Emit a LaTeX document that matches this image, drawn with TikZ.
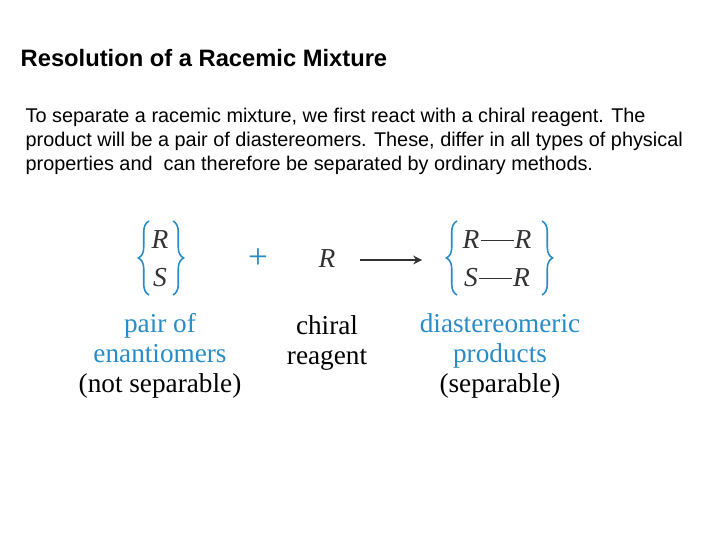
\documentclass[tikz,border=0pt]{standalone}
\usepackage{fontspec}
\setmainfont{Liberation Serif}
\setsansfont{Liberation Sans}
\usetikzlibrary{decorations.pathreplacing,arrows.meta}
\definecolor{chemblue}{RGB}{40,140,200}
\tikzset{
  hd/.style={anchor=base west,font=\sffamily\bfseries\fontsize{6.75pt}{7pt}\selectfont},
  body/.style={anchor=west,align=left,font=\sffamily\fontsize{5.65pt}{6.8pt}\selectfont},
  chem/.style={font=\fontsize{7.8pt}{8.5pt}\selectfont\itshape,text=black!80},
  lbl/.style={anchor=base,font=\fontsize{7.75pt}{8.5pt}\selectfont,inner sep=0pt},
  br/.style={chemblue,line width=0.45pt,decorate,decoration={brace,amplitude=3pt}},
}
\begin{document}
\begin{tikzpicture}[x=1cm,y=1cm]
\useasboundingbox[fill=white] (0,0) rectangle (7.2,5.4);
\node[hd,inner sep=0pt] (title) at (0.2,4.73) {Resolution of a Racemic Mixture};
\node[body,inner sep=0pt] (txt) at (0.25,3.99) {To separate a racemic mixture, we first react with a chiral reagent. The\\product will be a pair of diastereomers. These, differ in all types of physical\\properties and\ \ can therefore be separated by ordinary methods.};
% left pair
\node[chem] (R1) at (1.6,3.0) {R};
\node[chem] (S1) at (1.6,2.62) {S};
\draw[br] (1.49,2.45) -- (1.49,3.19);
\draw[br] (1.73,3.19) -- (1.73,2.45);
\node[lbl,text=chemblue,anchor=center] (plus) at (2.58,2.81) {\fontsize{10pt}{10pt}\selectfont +};
\node[chem] (R2) at (3.27,2.81) {R};
\coordinate (a1) at (3.6,2.8);
\coordinate (a2) at (4.22,2.8);
\draw[-{Stealth[length=2.5pt,width=2.5pt]},line width=0.45pt,black!80] (a1) -- (a2);
% right pair
\node[chem] (R3) at (4.97,3.0) {R\kern0.3pt\raisebox{0.62ex}{\rule{3.3mm}{0.45pt}}\kern0.3pt R};
\node[chem] (S3) at (4.97,2.62) {S\kern0.3pt\raisebox{0.62ex}{\rule{3.3mm}{0.45pt}}\kern0.3pt R};
\draw[br] (4.57,2.45) -- (4.57,3.19);
\draw[br] (5.42,3.19) -- (5.42,2.45);
% labels
\node[lbl,text=chemblue] (l1) at (1.6,2.08) {pair of};
\node[lbl,text=chemblue] (l2) at (1.6,1.78) {enantiomers};
\node[lbl] (l3) at (1.6,1.48) {(not separable)};
\node[lbl] (m1) at (3.27,2.06) {chiral};
\node[lbl] (m2) at (3.27,1.76) {reagent};
\node[lbl,text=chemblue] (r1) at (5.0,2.08) {diastereomeric};
\node[lbl,text=chemblue] (r2) at (5.0,1.78) {products};
\node[lbl] (r3) at (5.0,1.48) {(separable)};
\end{tikzpicture}
\end{document}
